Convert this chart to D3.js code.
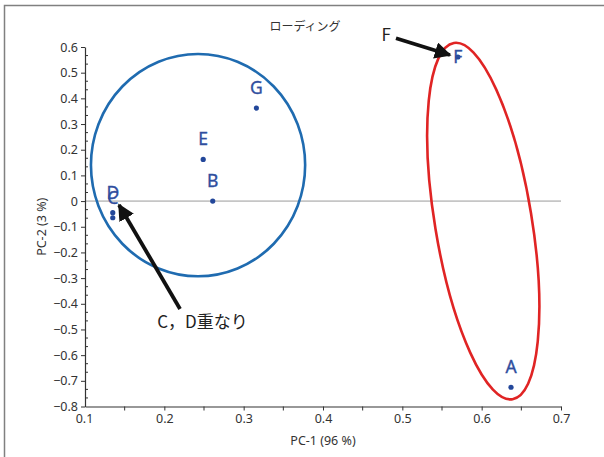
<!DOCTYPE html>
<html>
<head>
<meta charset="utf-8">
<script src="https://cdn.jsdelivr.net/npm/d3@7"></script>
<style>
  body { margin: 0; background: #fff; }
  text { font-family: "Noto Sans", "Noto Sans CJK JP", sans-serif; }
</style>
</head>
<body>
<script>
'use strict';

// sample names and loadings
const names = ['A', 'B', 'C', 'D', 'E', 'F', 'G'];
const pc1 = [0.637, 0.261, 0.135, 0.135, 0.249, 0.570, 0.316];
const pc2 = [-0.725, 0.0, -0.065, -0.045, 0.162, 0.561, 0.362];

const xTicks = [0.1, 0.2, 0.3, 0.4, 0.5, 0.6, 0.7];
const yTicks = [0.6, 0.5, 0.4, 0.3, 0.2, 0.1, 0, -0.1, -0.2, -0.3, -0.4, -0.5, -0.6, -0.7, -0.8];

// group outlines: centre, half-widths in data units, tilt in degrees
const groupCx = [0.2425, 0.602];
const groupCy = [0.14, -0.078];
const groupRx = [0.135, 0.061];
const groupRy = [0.433, 0.703];
const groupTilt = [0, -9.35];
const groupColor = ['#1f6bb0', '#e02424'];

// annotation arrows (data units)
const arrowFrom = [[0.492, 0.634], [0.2198, -0.420]];
const arrowTo = [[0.560, 0.569], [0.1429, -0.015]];
const noteText = ['F', 'C，D重なり'];
const notePos = [[0.4797, 0.623], [0.191, -0.494]];

const width = 604, height = 457;
const m = { left: 85, right: 561, top: 47, bottom: 406.5 };

const svg = d3.select('body').append('svg')
  .attr('width', width)
  .attr('height', height);

// outer frame
svg.append('rect')
  .attr('x', 4.5).attr('y', 5.5)
  .attr('width', 610).attr('height', 460)
  .attr('fill', 'none')
  .attr('stroke', '#808080')
  .attr('stroke-width', 1.5);

const x = d3.scaleLinear().domain([0.1, 0.7]).range([m.left, m.right]);
const y = d3.scaleLinear().domain([-0.8, 0.6]).range([m.bottom, m.top]);

// zero line
svg.append('line')
  .attr('x1', x(0.1)).attr('x2', x(0.7))
  .attr('y1', y(0)).attr('y2', y(0))
  .attr('stroke', '#9a9a9a')
  .attr('stroke-width', 1);

// x axis
const xAxis = d3.axisBottom(x)
  .tickValues(xTicks)
  .tickFormat(d3.format('.1f'))
  .tickSize(4)
  .tickSizeOuter(0);
const gx = svg.append('g')
  .attr('transform', 'translate(0,' + m.bottom + ')')
  .call(xAxis);
gx.selectAll('.tick').filter(d => d === 0.1).select('line').remove();
gx.selectAll('.tick').filter(d => d === 0.1).select('text').attr('dx', -1);

// x minor ticks
gx.selectAll('.minor')
  .data(d3.range(0.15, 0.7, 0.1))
  .enter().append('line')
  .attr('x1', d => x(d)).attr('x2', d => x(d))
  .attr('y1', 0).attr('y2', 4)
  .attr('stroke', '#333');

// y axis
const yAxis = d3.axisLeft(y)
  .tickValues(yTicks)
  .tickFormat(d => d === 0 ? '0' : d3.format('.1f')(d))
  .tickSize(4)
  .tickSizeOuter(0);
const gy = svg.append('g')
  .attr('transform', 'translate(' + m.left + ',0)')
  .call(yAxis);

// y minor ticks
const yMinor = [];
for (let i = 0; i < 14; i++) {
  const base = -0.8 + i * 0.1;
  yMinor.push(base + 0.1 / 3, base + 0.2 / 3);
}
gy.selectAll('.minor')
  .data(yMinor)
  .enter().append('line')
  .attr('x1', 0).attr('x2', 3)
  .attr('y1', d => y(d)).attr('y2', d => y(d))
  .attr('stroke', '#333');

[gx, gy].forEach(g => {
  g.select('.domain').attr('stroke', '#333').attr('stroke-width', 1.2);
  g.selectAll('.tick line').attr('stroke', '#333');
  g.selectAll('.tick text')
    .attr('fill', '#333')
    .style('font-size', '12.5px')
    .style('font-family', '"Noto Sans", sans-serif');
});
gy.selectAll('.tick text').attr('x', -7);
gx.selectAll('.tick text').attr('y', 8);

// group ellipses
svg.selectAll('.group')
  .data(groupCx)
  .enter().append('ellipse')
  .attr('transform', (d, i) => 'translate(' + x(d) + ',' + y(groupCy[i]) + ') rotate(' + groupTilt[i] + ')')
  .attr('rx', (d, i) => x(d + groupRx[i]) - x(d))
  .attr('ry', (d, i) => y(groupCy[i]) - y(groupCy[i] + groupRy[i]))
  .attr('fill', 'none')
  .attr('stroke', (d, i) => groupColor[i])
  .attr('stroke-width', 2.6);

// points
svg.selectAll('.dot')
  .data(names)
  .enter().append('circle')
  .attr('cx', (d, i) => x(pc1[i]))
  .attr('cy', (d, i) => y(pc2[i]))
  .attr('r', 2.6)
  .attr('fill', '#23479a');

// point labels (F sits on top of its point)
svg.selectAll('.lbl')
  .data(names)
  .enter().append('text')
  .attr('x', (d, i) => x(pc1[i]))
  .attr('y', (d, i) => y(pc2[i]) + (d === 'F' ? 6 : -14))
  .attr('text-anchor', 'middle')
  .attr('fill', '#2f4e9e')
  .attr('stroke', '#2f4e9e')
  .attr('stroke-width', 0.35)
  .style('font-size', '17.5px')
  .text(d => d);

// arrows
const defs = svg.append('defs');
defs.append('marker')
  .attr('id', 'head')
  .attr('viewBox', '0 0 10 10')
  .attr('refX', 9).attr('refY', 5)
  .attr('markerWidth', 4.4).attr('markerHeight', 4.4)
  .attr('markerUnits', 'strokeWidth')
  .attr('orient', 'auto')
  .append('path')
  .attr('d', 'M0,0 L10,5 L0,10 Z')
  .attr('fill', '#111');

svg.selectAll('.arrow')
  .data(arrowFrom)
  .enter().append('line')
  .attr('x1', d => x(d[0])).attr('y1', d => y(d[1]))
  .attr('x2', (d, i) => x(arrowTo[i][0])).attr('y2', (d, i) => y(arrowTo[i][1]))
  .attr('stroke', '#111')
  .attr('stroke-width', 3.8)
  .attr('marker-end', 'url(#head)');

svg.selectAll('.note')
  .data(noteText)
  .enter().append('text')
  .attr('x', (d, i) => x(notePos[i][0]))
  .attr('y', (d, i) => y(notePos[i][1]))
  .attr('text-anchor', (d, i) => i === 0 ? 'middle' : 'start')
  .attr('fill', '#222')
  .style('font-size', '17px')
  .style('font-family', '"Noto Sans CJK JP", sans-serif')
  .text(d => d);

// title and axis labels
svg.append('text')
  .attr('x', 305).attr('y', 31)
  .attr('text-anchor', 'middle')
  .attr('fill', '#333')
  .style('font-size', '12px')
  .style('font-family', '"Noto Sans CJK JP", sans-serif')
  .text('ローディング');

svg.append('text')
  .attr('x', (m.left + m.right) / 2).attr('y', 445)
  .attr('text-anchor', 'middle')
  .attr('fill', '#333')
  .style('font-size', '12.5px')
  .text('PC-1 (96 %)');

svg.append('text')
  .attr('transform', 'translate(46,' + (m.top + m.bottom) / 2 + ') rotate(-90)')
  .attr('text-anchor', 'middle')
  .attr('fill', '#333')
  .style('font-size', '12.5px')
  .text('PC-2 (3 %)');
</script>
</body>
</html>
